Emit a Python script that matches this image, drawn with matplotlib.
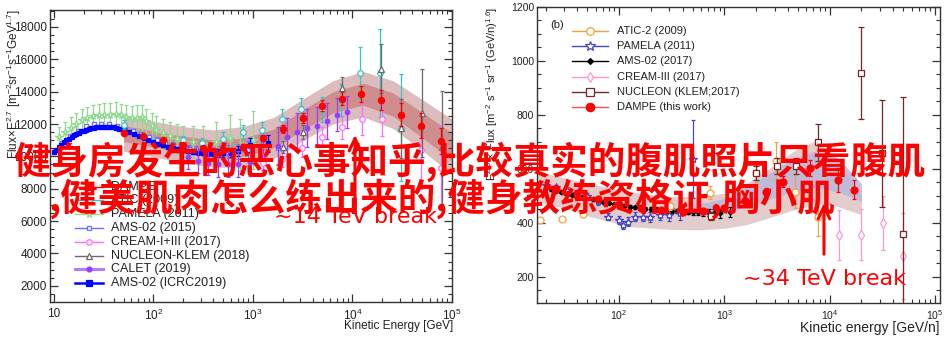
import numpy as np
import matplotlib
matplotlib.use('Agg')
import matplotlib.pyplot as plt
from matplotlib.lines import Line2D
from matplotlib.patches import FancyArrowPatch
from matplotlib.ticker import MultipleLocator, LogLocator, FuncFormatter, NullFormatter

# ---------------- data: left panel (protons) ----------------
dampe_p_E = [50.5, 79, 125, 200, 316, 500, 794, 1260, 2000, 3160, 4900, 7760, 12300, 19500, 31000, 49000, 77000]
dampe_p_F = [11420, 11250, 10990, 10700, 10500, 10400, 10600, 11150, 11670, 12390, 13140, 13570, 13860, 13490, 12590, 11910, 10930]
dampe_p_err = [150, 150, 150, 150, 150, 160, 180, 200, 250, 300, 350, 400, 500, 600, 700, 800, 800]

band_p_E = [50, 100, 200, 400, 800, 1600, 3200, 6400, 12800, 25600, 51200, 100000]
band_p_outer_lo = [10320, 9980, 9600, 9330, 9350, 9850, 11000, 12010, 12450, 11720, 10320, 8900]
band_p_outer_hi = [12520, 12180, 11840, 11630, 11850, 12400, 13560, 14690, 15250, 14680, 13480, 12300]
band_p_inner_lo = [10920, 10580, 10200, 9940, 10020, 10520, 11660, 12700, 13170, 12480, 11120, 9750]
band_p_inner_hi = [11920, 11580, 11240, 11020, 11140, 11680, 12900, 14000, 14530, 13920, 12680, 11450]

atic_p_E = [50, 200, 310, 500, 790, 1230, 1950, 3030, 4900, 7700, 12000, 19000, 31000]
atic_p_F = [11970, 10990, 10800, 11090, 11500, 11620, 12320, 12940, 12900, 13500, 15150, 15150, 11770]
atic_p_err = [300, 300, 350, 400, 450, 500, 600, 700, 800, 1000, 1600, 2700, 3300]

pam_p_E = [11.3, 12.9, 14.8, 16.6, 19.0, 21.6, 24.8, 28.4, 32.0, 36.5, 42, 46.8, 53, 60.5, 68, 76, 85, 95.6, 107, 125, 146, 171, 198, 250, 312, 420, 585, 740, 1000]
pam_p_F = [11190, 11500, 11770, 12030, 12240, 12380, 12480, 12540, 12590, 12590, 12650, 12540, 12450, 12380, 12400, 12420, 12170, 11910, 11660, 11460, 11250, 11090, 10940, 10900, 10780, 10900, 11150, 10700, 11000]
pam_p_err = [600, 620, 640, 660, 680, 690, 700, 710, 720, 720, 730, 730, 740, 750, 760, 770, 780, 800, 820, 850, 880, 920, 960, 1000, 1100, 1200, 1400, 1600, 1800]

ams15_E = [10, 12, 14.4, 17.3, 20.8, 25, 30, 36, 43, 52, 62, 75, 90, 108, 130, 156, 187, 225, 270, 324, 389, 467, 560, 700, 900, 1200, 1800]
ams15_F = [10300, 10800, 11250, 11600, 11850, 11980, 12020, 11990, 11900, 11760, 11590, 11400, 11200, 11020, 10850, 10700, 10580, 10480, 10400, 10350, 10320, 10300, 10300, 10320, 10380, 10600, 10500]
ams15_err = [120, 120, 120, 120, 120, 120, 120, 120, 120, 120, 130, 130, 140, 150, 160, 170, 180, 200, 220, 250, 280, 320, 380, 450, 550, 700, 1000]

cream_p_E = [1260, 1950, 3100, 4900, 7900, 12400, 19600, 49000, 78000]
cream_p_F = [9620, 9820, 10540, 11190, 11800, 12340, 12340, 10370, 9300]
cream_p_err = [500, 500, 550, 600, 700, 1000, 1100, 2400, 2600]

nuc_p_E = [2000, 3200, 7900, 19500, 31000, 50000, 80000]
nuc_p_F = [10580, 11520, 14230, 15420, 11730, 12690, 10560]
nuc_p_err = [400, 450, 700, 1500, 1800, 2700, 3500]

calet_E = [220, 280, 350, 440, 560, 700, 930, 1250, 1770, 2220, 2800, 3480, 4400, 5500, 7000, 8800]
calet_F = [9950, 9700, 9600, 9500, 9500, 9550, 9650, 10050, 10640, 11200, 11500, 11770, 11910, 12180, 12590, 12730]
calet_err = [700, 700, 720, 750, 780, 800, 850, 900, 1150, 1150, 1180, 1180, 1150, 1100, 1050, 1000]

ams19_E = [10, 10.6, 11.2, 11.9, 12.6, 13.3, 14.1, 15.0, 15.8, 16.8, 17.8, 18.8, 20.0, 21.1, 22.4, 23.7, 25.1, 26.6, 28.2, 29.9,
           31.6, 33.5, 35.5, 37.6, 39.8, 42.2, 44.7, 47.3, 50.1, 56.2, 63.1, 70.8, 79.4, 89.1, 100, 112, 126, 141, 158, 178,
           200, 224, 251, 282, 316, 355, 398, 447, 501, 600, 710, 935, 1410]
ams19_F = [10250, 10420, 10580, 10730, 10870, 10990, 11100, 11210, 11300, 11390, 11470, 11540, 11600, 11650, 11700, 11740, 11770, 11800, 11820, 11830,
           11840, 11840, 11830, 11810, 11790, 11760, 11720, 11680, 11630, 11520, 11400, 11270, 11140, 11010, 10890, 10780, 10680, 10590, 10510, 10440,
           10380, 10330, 10290, 10260, 10240, 10230, 10220, 10210, 10210, 10230, 10330, 10700, 10800]
ams19_err = [40, 40, 40, 40, 40, 40, 40, 40, 40, 40, 40, 40, 40, 40, 40, 40, 40, 40, 40, 40,
             40, 40, 40, 45, 45, 45, 50, 50, 50, 55, 60, 60, 65, 70, 75, 80, 85, 90, 100, 110,
             120, 130, 140, 150, 160, 180, 200, 220, 240, 280, 330, 450, 550]

# ---------------- data: right panel (helium) ----------------
dampe_he_E = [25, 40, 63, 100, 160, 250, 400, 630, 1000, 1600, 2500, 3600, 6500, 12100, 17000]
dampe_he_F = [525, 505, 487, 470, 456, 446, 441, 443, 455, 478, 515, 553, 602, 559, 522]
dampe_he_err = [8, 8, 8, 8, 8, 8, 9, 10, 11, 13, 16, 20, 30, 45, 35]

band_he_E = [16.6, 30, 53, 127, 300, 575, 1000, 1610, 2860, 4500, 7300, 11000, 20000]
band_he_lo = [479, 455, 423, 386, 376, 374, 380, 393, 423, 448, 470, 465, 430]
band_he_hi = [590, 567, 545, 515, 498, 497, 510, 545, 610, 665, 705, 650, 505]

sys_he_E = [500, 1000, 2000, 4000, 7000, 12000, 20000]
sys_he_lo = [425, 435, 470, 510, 530, 515, 480]
sys_he_hi = [465, 490, 555, 625, 665, 640, 545]

atic_he_E = [17.7, 28.5, 45.6, 306, 735, 1980, 3070, 4700, 7800]
atic_he_F = [411, 415, 432, 463, 512, 586, 631, 516, 420]
atic_he_err = [8, 8, 10, 15, 25, 35, 70, 60, 70]

pam_he_E = [20, 25, 32, 40, 50, 63, 79, 100, 110, 122, 142, 170, 197, 245, 300, 380, 500]
pam_he_F = [540, 532, 522, 512, 500, 480, 423, 410, 393, 405, 423, 423, 423, 430, 430, 436, 636]
pam_he_err = [10, 10, 10, 10, 12, 12, 12, 14, 15, 15, 16, 16, 18, 20, 22, 25, 145]

ams_he_E = [20, 22.4, 25.1, 28.2, 31.6, 35.5, 39.8, 44.7, 50.1, 56.2, 63.1, 70.8, 79.4, 89.1, 100, 112, 126, 141, 158, 178,
            200, 224, 251, 282, 316, 355, 398, 447, 501, 562, 631, 708, 800, 900, 1120]
ams_he_F = [530, 524, 519, 514, 509, 504, 500, 496, 492, 487, 483, 478, 474, 470, 466, 463, 460, 457, 455, 453,
            451, 449, 447, 446, 445, 444, 443, 442, 441, 440, 439, 438, 437, 436, 440]
ams_he_err = [5, 5, 5, 5, 5, 5, 5, 5, 5, 5, 5, 5, 5, 5, 6, 6, 6, 6, 7, 7,
              7, 8, 8, 8, 9, 9, 10, 10, 11, 12, 13, 14, 15, 17, 20]

cream_he_E = [12300, 20000, 31900, 50000]
cream_he_F = [356, 356, 401, 278]
cream_he_err = [92, 95, 100, 160]

nuc_he_E = [740, 1980, 3140, 4800, 7700, 19700, 31500, 50000]
nuc_he_F = [426, 585, 612, 612, 699, 954, 658, 359]
nuc_he_err_lo = [15, 25, 30, 30, 70, 170, 198, 280]
nuc_he_err_hi = [15, 25, 30, 30, 67, 173, 198, 508]

# legend labels
left_labels = ['DAMPE', 'ATIC (2009)', 'PAMELA (2011)', 'AMS-02 (2015)', 'CREAM-I+III (2017)',
               'NUCLEON-KLEM (2018)', 'CALET (2019)', 'AMS-02 (ICRC2019)']
right_labels = ['ATIC-2 (2009)', 'PAMELA (2011)', 'AMS-02 (2017)', 'CREAM-III (2017)',
                'NUCLEON (KLEM;2017)', 'DAMPE (this work)']

overlay1 = '健身房发生的恶心事知乎,比较真实的腹肌照片只看腹肌'
overlay2 = ',健美肌肉怎么练出来的,健身教练资格证,胸小肌'

# ---------------- styling ----------------
W, H = 951, 352
plt.rcParams['font.family'] = ['Liberation Sans', 'DejaVu Sans']
plt.rcParams['mathtext.fontset'] = 'custom'
plt.rcParams['mathtext.rm'] = 'Liberation Sans'
plt.rcParams['mathtext.it'] = 'Liberation Sans:italic'
plt.rcParams['mathtext.bf'] = 'Liberation Sans:bold'
plt.rcParams['axes.linewidth'] = 1.0

fig = plt.figure(figsize=(W / 100, H / 100), dpi=100)


def fbox(l, t, r, b):
    return [l / W, 1 - b / H, (r - l) / W, (b - t) / H]


axL = fig.add_axes(fbox(50, 10, 452, 302))
axR = fig.add_axes(fbox(537, 7, 940, 303))

RED = '#ff0000'
C_ATIC = '#33c4c4'
C_PAM = '#8fd88f'
C_AMS15 = '#6f6fff'
C_CREAM = '#ff6cff'
C_NUC = '#6a6a6a'
C_CALET = '#9a3cff'
C_AMS19 = '#0000ff'


def eb(ax, E, F, err, color, marker, filled, ms, z, cap=1.5, elw=0.9):
    ax.errorbar(E, F, yerr=err, fmt=marker, color=color, ecolor=color,
                mfc=color if filled else 'white', mec=color, ms=ms, mew=0.9,
                elinewidth=elw, capsize=cap, capthick=0.8, zorder=z)


# ---- left panel ----
axL.fill_between(band_p_E, band_p_outer_lo, band_p_outer_hi, color='#dcbcbc', lw=0, zorder=1)
axL.fill_between(band_p_E, band_p_inner_lo, band_p_inner_hi, color='#cf8e8e', lw=0, zorder=1.1)
eb(axL, pam_p_E, pam_p_F, pam_p_err, C_PAM, '*', False, 5.5, 2)
eb(axL, ams15_E, ams15_F, ams15_err, C_AMS15, 's', False, 3.2, 2.2)
eb(axL, ams19_E, ams19_F, ams19_err, C_AMS19, 's', True, 3.5, 2.5)
eb(axL, calet_E, calet_F, calet_err, C_CALET, 'o', True, 3.3, 2.6)
eb(axL, cream_p_E, cream_p_F, cream_p_err, C_CREAM, 'o', False, 4, 2.7)
eb(axL, atic_p_E, atic_p_F, atic_p_err, C_ATIC, 'o', False, 4, 2.8)
eb(axL, nuc_p_E, nuc_p_F, nuc_p_err, C_NUC, '^', False, 4.5, 2.9)
eb(axL, dampe_p_E, dampe_p_F, dampe_p_err, RED, 'o', True, 4.5, 3)

axL.set_xscale('log')
axL.set_xlim(9.12, 1e5)
axL.set_ylim(1000, 19050)
axL.yaxis.set_major_locator(MultipleLocator(2000))
axL.yaxis.set_minor_locator(MultipleLocator(500))
axL.set_yticks([2000, 4000, 6000, 8000, 10000, 12000, 14000, 16000, 18000])

# ---- right panel ----
axR.fill_between(band_he_E, band_he_lo, band_he_hi, color='#e3cccc', lw=0, zorder=1)
axR.fill_between(sys_he_E, sys_he_lo, sys_he_hi, color='#b8b8dc', alpha=0.85, lw=0, zorder=1.1)
eb(axR, ams_he_E, ams_he_F, ams_he_err, 'black', 'D', True, 2.4, 2)
eb(axR, pam_he_E, pam_he_F, pam_he_err, '#4545c8', '*', False, 6, 2.2)
eb(axR, atic_he_E, atic_he_F, atic_he_err, '#f4a040', 'o', False, 5, 2.4)
eb(axR, cream_he_E, cream_he_F, cream_he_err, '#ff99cc', 'd', False, 5.5, 2.5)
axR.errorbar(nuc_he_E, nuc_he_F, yerr=[nuc_he_err_lo, nuc_he_err_hi], fmt='s', color='#7a2626',
             mfc='white', mec='#7a2626', ms=5, mew=0.9, elinewidth=0.9, capsize=2.5, capthick=0.8, zorder=2.6)
eb(axR, dampe_he_E, dampe_he_F, dampe_he_err, RED, 'o', True, 5, 3)

axR.set_xscale('log')
axR.set_xlim(16.6, 1.115e5)
axR.set_ylim(103, 1200)
axR.yaxis.set_major_locator(MultipleLocator(200))
axR.yaxis.set_minor_locator(MultipleLocator(50))


def logfmt(v, pos):
    n = int(round(np.log10(v)))
    return '10' if n == 1 else '$10^{%d}$' % n


for ax, fs in ((axL, 8.5), (axR, 7.5)):
    ax.xaxis.set_major_locator(LogLocator(base=10, numticks=10))
    ax.xaxis.set_minor_locator(LogLocator(base=10, subs=np.arange(2, 10), numticks=20))
    ax.xaxis.set_major_formatter(FuncFormatter(logfmt))
    ax.xaxis.set_minor_formatter(NullFormatter())
    ax.tick_params(which='both', direction='in', top=True, right=True, colors='#333333',
                   labelsize=fs, labelcolor='#222222')
    ax.tick_params(which='major', length=6, width=0.9)
    ax.tick_params(which='minor', length=3.2, width=0.8)
    ax.tick_params(axis='x', pad=4)
    ax.tick_params(axis='y', pad=2)
    for s in ax.spines.values():
        s.set_color('#333333')

axL.set_xlabel('Kinetic Energy [GeV]', fontsize=8.5, ha='right', color='#222222')
axL.xaxis.set_label_coords(1.002, -0.062)
axR.set_xlabel('Kinetic energy [GeV/n]', fontsize=10, ha='right', color='#222222')
axR.xaxis.set_label_coords(0.998, -0.060)

fig.text(14 / W, 1 - 9 / H, r'Flux$\times$E$^{2.7}$ [m$^{-2}$sr$^{-1}$s$^{-1}$GeV$^{1.7}$]',
         rotation=90, ha='center', va='top', fontsize=8.5, color='#222222')
fig.text(492 / W, 1 - 7 / H, r'E$^{2.6}$ $\times$ Flux [m$^{-2}$ s$^{-1}$ sr$^{-1}$ (GeV/n)$^{1.6}$]',
         rotation=90, ha='center', va='top', fontsize=8, color='#222222')
fig.text(550 / W, 1 - 25 / H, '(b)', fontsize=8, va='center', ha='left', color='#222222')

# ---- legends (drawn manually, ROOT style) ----
left_styles = [(RED, 1.0, 'o', True, 4.5), (C_ATIC, 1.0, 'o', False, 4), (C_PAM, 1.0, '*', False, 5.5),
               (C_AMS15, 1.0, 's', False, 3.5), (C_CREAM, 1.0, 'o', False, 4), (C_NUC, 1.0, '^', False, 4.5),
               ('#b27dff', 2.2, 'o', True, 3.5), (C_AMS19, 1.8, 's', True, 4)]
right_styles = [('#f4a040', 1.0, 'o', False, 5.5), ('#4545c8', 1.0, '*', False, 7), ('black', 1.0, 'D', True, 3),
                ('#ff99cc', 1.0, 'd', False, 5.5), ('#7a2626', 1.0, 's', False, 5.5), ('#ff5050', 1.0, 'o', True, 6)]
left_mcol = [RED, C_ATIC, C_PAM, C_AMS15, C_CREAM, C_NUC, C_CALET, C_AMS19]
right_mcol = ['#f4a040', '#4545c8', 'black', '#ff99cc', '#7a2626', RED]


def draw_legend(labels, styles, mcols, x0, x1, xt, y0, dy, fs):
    for i, (lab, (c, lw, m, filled, ms), mc) in enumerate(zip(labels, styles, mcols)):
        y = 1 - (y0 + i * dy) / H
        fig.add_artist(Line2D([x0 / W, x1 / W], [y, y], color=c, lw=lw, transform=fig.transFigure))
        fig.add_artist(Line2D([(x0 + x1) / 2 / W], [y], marker=m, ms=ms, mec=mc, mew=0.9,
                              mfc=mc if filled else 'white', transform=fig.transFigure))
        fig.text(xt / W, y, lab, fontsize=fs, ha='left', va='center', color='#222222')


draw_legend(left_labels, left_styles, left_mcol, 75, 103, 111, 186.6, 13.8, 9)
draw_legend(right_labels, right_styles, right_mcol, 572, 608, 617, 30.7, 15.3, 8)

# ---- red annotations ----
for (x, yb, yt) in ((355, 207, 132), (824, 257, 200)):
    fig.add_artist(FancyArrowPatch((x / W, 1 - yb / H), (x / W, 1 - yt / H), transform=fig.transFigure,
                                   arrowstyle='->,head_length=9,head_width=4.2', mutation_scale=1,
                                   color=RED, lw=2.2, zorder=9))
fig.text(274 / W, 1 - 223 / H, '~14 TeV break', fontsize=16, color=RED, family='DejaVu Sans',
         ha='left', va='baseline', zorder=10)
fig.text(743 / W, 1 - 285 / H, '~34 TeV break', fontsize=16, color=RED, family='DejaVu Sans',
         ha='left', va='baseline', zorder=10)

cjk = ['Noto Sans CJK SC', 'DejaVu Sans']
fig.text(13 / W, 1 - 174 / H, overlay1, fontsize=27, color=RED, family=cjk, fontweight='bold',
         ha='left', va='baseline', zorder=11)
fig.text(48 / W, 1 - 211 / H, overlay2, fontsize=27, color=RED, family=cjk, fontweight='bold',
         ha='left', va='baseline', zorder=11)

fig.savefig('out.png', dpi=100)
